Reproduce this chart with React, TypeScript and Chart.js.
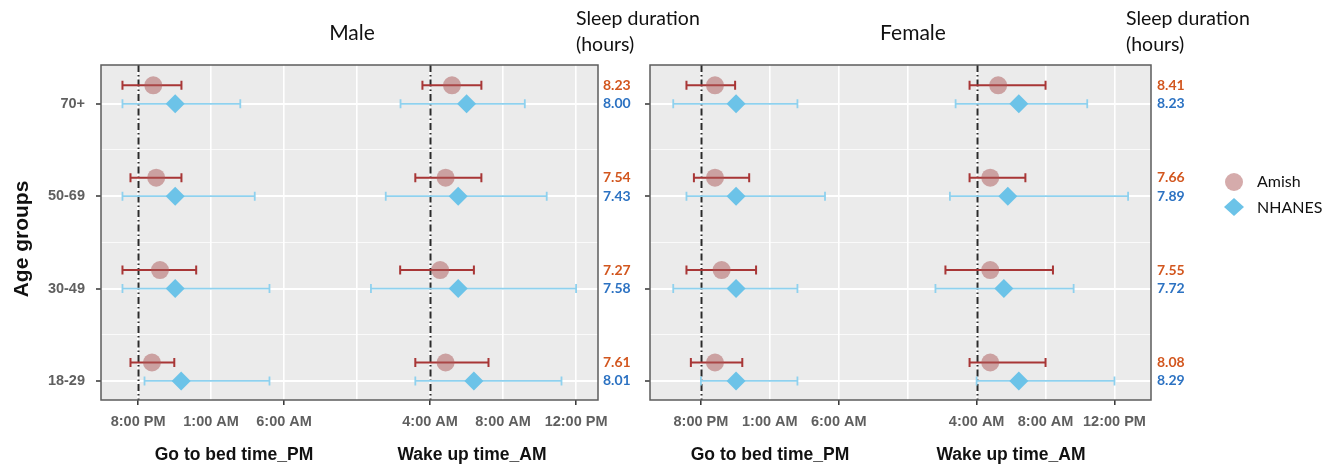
import React, { useEffect, useRef } from 'react';
import { Chart, registerables } from 'chart.js';
Chart.register(...registerables);

const AGE_GROUPS = ['70+', '50-69', '30-49', '18-29'];
const X_TICK_LABELS = ['8:00 PM', '1:00 AM', '6:00 AM', '', '4:00 AM', '8:00 AM', '12:00 PM'];
const X_TICK_MARKED = [true, false, true, false, true, false, true];

// Bed times: clock hours extended past midnight (24 = 12:00 AM, 25 = 1:00 AM ...)
// Wake times: clock hours (4 = 4:00 AM, 12 = 12:00 PM). Each entry: [mean, lower, upper]
const maleAmishBed = [[21.04, 18.93, 22.97], [21.24, 19.48, 22.97], [21.5, 18.93, 23.98], [20.95, 19.48, 22.48]];
const maleNhanesBed = [[22.54, 18.93, 27.0], [22.54, 18.93, 27.99], [22.54, 18.93, 29.0], [22.95, 20.44, 29.0]];
const maleAmishWake = [[5.2, 3.58, 6.81], [4.85, 3.19, 6.81], [4.55, 2.36, 6.4], [4.85, 3.19, 7.2]];
const maleNhanesWake = [[6.0, 2.38, 9.19], [5.54, 1.57, 10.39], [5.54, 0.76, 12.0], [6.4, 3.19, 11.2]];

const femaleAmishBed = [[21.02, 18.95, 22.48], [21.02, 19.49, 23.5], [21.5, 18.95, 24.0], [21.02, 19.27, 23.0]];
const femaleNhanesBed = [[22.55, 17.99, 27.0], [22.55, 18.95, 29.0], [22.55, 17.99, 27.0], [22.55, 20.0, 27.0]];
const femaleAmishWake = [[5.25, 3.59, 8.0], [4.79, 3.59, 6.83], [4.79, 2.19, 8.43], [4.79, 3.59, 8.0]];
const femaleNhanesWake = [[6.45, 2.78, 10.42], [5.81, 2.45, 12.79], [5.58, 1.61, 9.63], [6.45, 4.0, 12.0]];

const maleAmishSleep = [8.23, 7.54, 7.27, 7.61];
const maleNhanesSleep = [8.0, 7.43, 7.58, 8.01];
const femaleAmishSleep = [8.41, 7.66, 7.55, 8.08];
const femaleNhanesSleep = [8.23, 7.89, 7.72, 8.29];

// axis transforms: bed axis 8PM..6AM in 5h steps, wake axis 4AM..12PM in 4h steps
const bedToX = (h: number) => (h - 20) / 5;
const wakeToX = (h: number) => 4 + (h - 4) / 4;
const rowY = (i: number) => AGE_GROUPS.length - i;
const AMISH_OFFSET = 0.2;

const AMISH_FILL = 'rgba(172, 88, 88, 0.5)';
const AMISH_BAR = '#A83636';
const NHANES_FILL = '#6CC3E8';
const NHANES_BAR = '#8FD1EE';
const AMISH_TEXT = '#D2561E';
const NHANES_TEXT = '#2C72C2';
const CAL = 'Lato, "Open Sans", sans-serif';
const ARIAL = '"Liberation Sans", Arial, sans-serif';

type PanelCfg = {
  title: string; titleX: number; headerX: number; valX: number; bedTitleX: number; wakeTitleX: number;
  canvasLeft: number; canvasWidth: number; yAxisWidth: number; padRight: number;
  xMin: number; xMax: number; showY: boolean; legend: boolean;
  amishBed: number[][]; nhanesBed: number[][]; amishWake: number[][]; nhanesWake: number[][];
  amishSleep: number[]; nhanesSleep: number[];
};

const PANELS: PanelCfg[] = [
  {
    title: 'Male', titleX: 352, headerX: 576, valX: 603, bedTitleX: 234, wakeTitleX: 472,
    canvasLeft: 0, canvasWidth: 720, yAxisWidth: 101, padRight: 122, xMin: -0.508, xMax: 6.3,
    showY: true, legend: false,
    amishBed: maleAmishBed, nhanesBed: maleNhanesBed, amishWake: maleAmishWake, nhanesWake: maleNhanesWake,
    amishSleep: maleAmishSleep, nhanesSleep: maleNhanesSleep,
  },
  {
    title: 'Female', titleX: 913, headerX: 1126, valX: 1157, bedTitleX: 770, wakeTitleX: 1011,
    canvasLeft: 640, canvasWidth: 689, yAxisWidth: 10, padRight: 178, xMin: -0.739, xMax: 6.53,
    showY: false, legend: true,
    amishBed: femaleAmishBed, nhanesBed: femaleNhanesBed, amishWake: femaleAmishWake, nhanesWake: femaleNhanesWake,
    amishSleep: femaleAmishSleep, nhanesSleep: femaleNhanesSleep,
  },
];

function Panel({ cfg }: { cfg: PanelCfg }) {
  const ref = useRef<HTMLCanvasElement | null>(null);
  useEffect(() => {
    if (!ref.current) return;
    const L = cfg.canvasLeft;
    const amishPts = [
      ...cfg.amishBed.map((d, i) => ({ x: bedToX(d[0]), y: rowY(i) + AMISH_OFFSET })),
      ...cfg.amishWake.map((d, i) => ({ x: wakeToX(d[0]), y: rowY(i) + AMISH_OFFSET })),
    ];
    const nhanesPts = [
      ...cfg.nhanesBed.map((d, i) => ({ x: bedToX(d[0]), y: rowY(i) })),
      ...cfg.nhanesWake.map((d, i) => ({ x: wakeToX(d[0]), y: rowY(i) })),
    ];

    const plugin = {
      id: 'panelDecor',
      beforeDraw(chart: any) {
        const { ctx, chartArea: a } = chart;
        ctx.save();
        ctx.fillStyle = '#EBEBEB';
        ctx.fillRect(a.left, a.top, a.right - a.left, a.bottom - a.top);
        ctx.restore();
      },
      beforeDatasetsDraw(chart: any) {
        const { ctx, chartArea: a } = chart;
        const xs = chart.scales.x, ys = chart.scales.y;
        ctx.save();
        ctx.strokeStyle = '#2a2a2a';
        ctx.lineWidth = 2;
        ctx.setLineDash([7, 3, 1.5, 3]);
        [bedToX(20), wakeToX(4)].forEach((v) => {
          const px = Math.round(xs.getPixelForValue(v)) + 0.5;
          ctx.beginPath();
          ctx.moveTo(px, a.top);
          ctx.lineTo(px, a.bottom);
          ctx.stroke();
        });
        ctx.setLineDash([]);
        const bar = (rows: number[][], conv: (h: number) => number, off: number, color: string, w: number) => {
          ctx.strokeStyle = color;
          ctx.lineWidth = w;
          rows.forEach((d, i) => {
            const y = ys.getPixelForValue(rowY(i) + off);
            const x1 = xs.getPixelForValue(conv(d[1]));
            const x2 = xs.getPixelForValue(conv(d[2]));
            ctx.beginPath();
            ctx.moveTo(x1, y); ctx.lineTo(x2, y);
            ctx.moveTo(x1, y - 4.5); ctx.lineTo(x1, y + 4.5);
            ctx.moveTo(x2, y - 4.5); ctx.lineTo(x2, y + 4.5);
            ctx.stroke();
          });
        };
        bar(cfg.nhanesBed, bedToX, 0, NHANES_BAR, 1.8);
        bar(cfg.nhanesWake, wakeToX, 0, NHANES_BAR, 1.8);
        bar(cfg.amishBed, bedToX, AMISH_OFFSET, AMISH_BAR, 2);
        bar(cfg.amishWake, wakeToX, AMISH_OFFSET, AMISH_BAR, 2);
        ctx.restore();
      },
      afterDatasetsDraw(chart: any) {
        const { ctx, chartArea: a } = chart;
        ctx.save();
        ctx.strokeStyle = '#5c5c5c';
        ctx.lineWidth = 1.5;
        ctx.strokeRect(a.left, a.top, a.right - a.left, a.bottom - a.top);
        ctx.restore();
      },
      afterDraw(chart: any) {
        const { ctx } = chart;
        const ys = chart.scales.y;
        ctx.save();
        ctx.fillStyle = '#111';
        ctx.textBaseline = 'middle';
        ctx.textAlign = 'center';
        ctx.font = `21px ${CAL}`;
        ctx.fillText(cfg.title, cfg.titleX - L, 33);
        ctx.textAlign = 'left';
        ctx.font = `19.5px ${CAL}`;
        ctx.fillText('Sleep duration', cfg.headerX - L, 19);
        ctx.fillText('(hours)', cfg.headerX - L, 45);
        ctx.font = `bold 14px ${CAL}`;
        AGE_GROUPS.forEach((_, i) => {
          ctx.fillStyle = AMISH_TEXT;
          ctx.fillText(cfg.amishSleep[i].toFixed(2), cfg.valX - L, ys.getPixelForValue(rowY(i) + AMISH_OFFSET));
          ctx.fillStyle = NHANES_TEXT;
          ctx.fillText(cfg.nhanesSleep[i].toFixed(2), cfg.valX - L, ys.getPixelForValue(rowY(i)));
        });
        ctx.fillStyle = '#111';
        ctx.textAlign = 'center';
        ctx.font = `bold 17.5px ${ARIAL}`;
        ctx.fillText('Go to bed time_PM', cfg.bedTitleX - L, 455);
        ctx.fillText('Wake up time_AM', cfg.wakeTitleX - L, 455);
        if (cfg.showY) {
          ctx.save();
          ctx.translate(22, 239);
          ctx.rotate(-Math.PI / 2);
          ctx.font = `bold 21px ${ARIAL}`;
          ctx.fillText('Age groups', 0, 0);
          ctx.restore();
        }
        if (cfg.legend) {
          const lx = 1234 - L;
          ctx.fillStyle = AMISH_FILL;
          ctx.beginPath();
          ctx.arc(lx, 182, 9, 0, Math.PI * 2);
          ctx.fill();
          ctx.fillStyle = NHANES_FILL;
          ctx.beginPath();
          ctx.moveTo(lx, 198); ctx.lineTo(lx + 10, 207); ctx.lineTo(lx, 216); ctx.lineTo(lx - 10, 207);
          ctx.closePath();
          ctx.fill();
          ctx.fillStyle = '#111';
          ctx.textAlign = 'left';
          ctx.font = `16px ${CAL}`;
          ctx.fillText('Amish', 1257 - L, 182);
          ctx.fillText('NHANES', 1257 - L, 208);
        }
        ctx.restore();
      },
    };

    const chart = new Chart(ref.current, {
      type: 'scatter',
      data: {
        datasets: [
          {
            label: 'NHANES', data: nhanesPts, pointStyle: 'rectRot', pointRadius: 9.5,
            backgroundColor: NHANES_FILL, borderWidth: 0,
          },
          {
            label: 'Amish', data: amishPts, pointStyle: 'circle', pointRadius: 9,
            backgroundColor: AMISH_FILL, borderWidth: 0,
          },
        ],
      },
      options: {
        animation: false,
        responsive: false,
        events: [],
        layout: { padding: { left: 0, right: cfg.padRight, top: 65, bottom: 0 } },
        plugins: { legend: { display: false }, tooltip: { enabled: false }, title: { display: false } },
        scales: {
          x: {
            type: 'linear', min: cfg.xMin, max: cfg.xMax,
            afterBuildTicks: (s: any) => { s.ticks = X_TICK_LABELS.map((_, i) => ({ value: i })); },
            afterFit: (s: any) => { s.height = 68; },
            ticks: {
              autoSkip: false, maxRotation: 0, padding: 8,
              color: '#5f5f5f', font: { family: ARIAL, size: 14.5, weight: 'bold' },
              callback: (v: any) => X_TICK_LABELS[Math.round(v)] ?? '',
            },
            grid: {
              color: '#FFFFFF', lineWidth: 1.6, tickLength: 5,
              tickColor: (c: any) => (X_TICK_MARKED[Math.round(c.tick?.value ?? -1)] ? '#333' : 'rgba(0,0,0,0)'),
              tickWidth: 1.5,
            },
            border: { display: false },
          },
          y: {
            type: 'linear', min: 0.794, max: 4.42,
            afterBuildTicks: (s: any) => {
              s.ticks = [1, 1.5, 2, 2.5, 3, 3.5, 4].map((v) => ({ value: v }));
            },
            afterFit: (s: any) => { s.width = cfg.yAxisWidth; },
            ticks: {
              autoSkip: false, padding: 11,
              color: '#5f5f5f', font: { family: ARIAL, size: 14.5, weight: 'bold' },
              callback: (v: any) => {
                if (!cfg.showY || !Number.isInteger(v)) return '';
                return AGE_GROUPS[AGE_GROUPS.length - v];
              },
            },
            grid: {
              color: (c: any) => (Number.isInteger(c.tick?.value) ? '#FFFFFF' : 'rgba(255,255,255,0.75)'),
              lineWidth: (c: any) => (Number.isInteger(c.tick?.value) ? 2 : 1),
              tickLength: 5,
              tickColor: (c: any) => (Number.isInteger(c.tick?.value) ? '#333' : 'rgba(0,0,0,0)'),
              tickWidth: 1.5,
            },
            border: { display: false },
          },
        },
      } as any,
      plugins: [plugin],
    });
    return () => chart.destroy();
  }, [cfg]);
  return (
    <canvas
      ref={ref}
      width={cfg.canvasWidth}
      height={468}
      style={{ position: 'absolute', left: cfg.canvasLeft, top: 0, width: cfg.canvasWidth, height: 468 }}
    />
  );
}

export default function App() {
  return (
    <div style={{ position: 'absolute', left: 0, top: 0, width: 1329, height: 468, background: '#fff' }}>
      {PANELS.map((p) => (
        <Panel key={p.title} cfg={p} />
      ))}
    </div>
  );
}
